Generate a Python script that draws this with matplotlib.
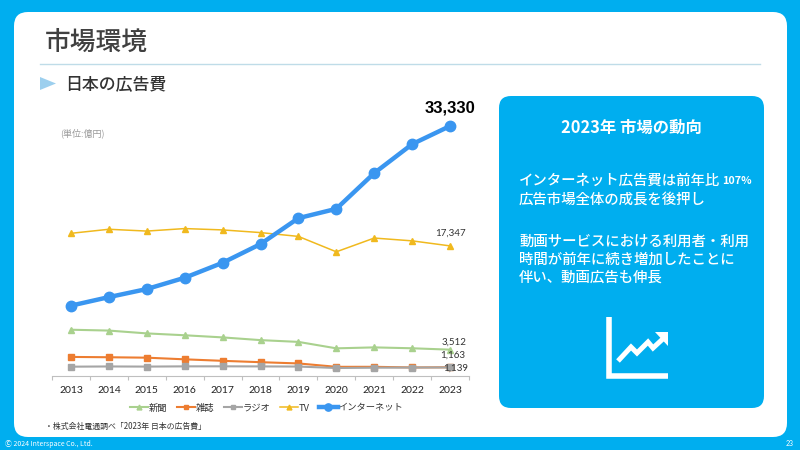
import matplotlib
matplotlib.use("Agg")
import matplotlib.pyplot as plt
from matplotlib.patches import FancyBboxPatch, Polygon

plt.rcParams['font.family'] = ['Noto Sans CJK JP', 'DejaVu Sans']

years = ['2013', '2014', '2015', '2016', '2017', '2018', '2019', '2020', '2021', '2022', '2023']
shinbun = [6170, 6057, 5679, 5431, 5147, 4784, 4547, 3688, 3815, 3697, 3512]
zasshi = [2543, 2500, 2443, 2223, 2023, 1841, 1675, 1223, 1224, 1140, 1163]
radio = [1243, 1272, 1254, 1285, 1290, 1278, 1260, 1066, 1106, 1129, 1139]
tv = [19023, 19564, 19323, 19657, 19478, 19123, 18612, 16559, 18393, 18019, 17347]
internet = [9381, 10519, 11594, 13100, 15094, 17589, 21048, 22290, 27052, 30912, 33330]

body_lines = ['インターネット広告費は前年比', '広告市場全体の成長を後押し',
              '動画サービスにおける利用者・利用', '時間が前年に続き増加したことに', '伴い、動画広告も伸長']
body_y = [181, 200, 242, 260, 278]

BLUE = '#00AEEF'
DARK = '#404040'
W, H = 800, 450

fig = plt.figure(figsize=(8, 4.5), dpi=100, facecolor=BLUE)

# スライド全体はピクセル座標で描く
bg = fig.add_axes([0, 0, 1, 1])
bg.set_xlim(0, W)
bg.set_ylim(H, 0)
bg.axis('off')

bg.add_patch(FancyBboxPatch((14 + 14, 12 + 14), 773 - 28, 425 - 28, boxstyle='round,pad=14,rounding_size=14',
                            fc='white', ec='none'))
bg.add_patch(FancyBboxPatch((499 + 12, 96 + 12), 265 - 24, 312 - 24, boxstyle='round,pad=12,rounding_size=12',
                            fc=BLUE, ec='none'))

bg.text(45, 42, '市場環境', fontsize=18.5, color=DARK, weight='medium', va='center')
bg.plot([40, 760], [64, 64], color='#BFDCE8', lw=1)
bg.add_patch(Polygon([(40, 77), (56, 83.5), (40, 90)], fc='#9CCFEE', ec='none'))
bg.text(65, 84, '日本の広告費', fontsize=12.2, color='#333333', weight='medium', va='center')
bg.text(60, 133, '(単位:億円)', fontsize=6.5, color='#999999', va='center')
bg.text(45, 426, '・株式会社電通調べ「2023年 日本の広告費」', fontsize=5.7, color='#333333', va='center')
bg.text(5, 444, 'Ⓒ 2024 Interspace Co., Ltd.', fontsize=5, color='white', va='center',
        family=['Noto Sans CJK JP', 'DejaVu Sans'])
bg.text(790, 444, '23', fontsize=5, color='white', va='center', ha='center', family='Lato')

bg.text(631, 128, '2023年 市場の動向', fontsize=11.8, color='white', weight='bold', ha='center', va='center')
for line, y in zip(body_lines, body_y):
    bg.text(519, y, line, fontsize=10.4, color='white', weight='medium', va='center')
bg.text(722, 181, '107%', fontsize=7.8, color='white', weight='bold', va='center')

# アイコン
bg.plot([609, 609, 668], [317, 376, 376], color='white', lw=4, solid_joinstyle='miter', solid_capstyle='butt')
bg.plot([618, 631, 637, 648, 653, 666], [361, 347, 353, 342, 348, 336], color='white', lw=3.6,
        solid_joinstyle='miter', solid_capstyle='butt')
bg.add_patch(Polygon([(655, 332), (668, 332), (668, 346)], fc='white', ec='none'))

# グラフ
ax = fig.add_axes([52 / W, 1 - 376 / H, (469 - 52) / W, (376 - 100) / H])
ax.patch.set_alpha(0)
x = list(range(len(years)))
ax.plot(x, shinbun, color='#A9D18E', lw=1.5, marker='^', ms=5, label='新聞')
ax.plot(x, zasshi, color='#ED7D31', lw=1.5, marker='s', ms=4.5, label='雑誌')
ax.plot(x, radio, color='#A5A5A5', lw=1.5, marker='s', ms=4.5, label='ラジオ')
ax.plot(x, tv, color='#F0B91E', lw=1.1, marker='^', ms=5, label='TV')
ax.plot(x, internet, color='#3A96F0', lw=3.2, marker='o', ms=7.5, label='インターネット')

ax.set_xlim(-0.5, 10.5)
ax.set_ylim(0, 36800)
ax.set_yticks([])
ax.set_xticks(x)
ax.set_xticklabels(years, fontsize=7.5, color='#222222', family='Lato')
ax.set_xticks([i - 0.5 for i in range(12)], minor=True)
ax.tick_params(axis='x', which='major', length=0, pad=7)
ax.tick_params(axis='x', which='minor', length=3, color='#BFBFBF', width=0.8)
for side in ['top', 'left', 'right']:
    ax.spines[side].set_visible(False)
ax.spines['bottom'].set_color('#BFBFBF')
ax.spines['bottom'].set_linewidth(0.8)

ax.annotate(f'{internet[-1]:,}', (10, internet[-1]), xytext=(0, 18), textcoords='offset pixels', ha='center',
            va='center', fontsize=12, weight='bold', color='black', family='Liberation Sans')
ax.annotate(f'{tv[-1]:,}', (10, tv[-1]), xytext=(0, 13), textcoords='offset pixels', ha='center',
            va='center', fontsize=7, color='#333333', family='Lato')
ax.annotate(f'{shinbun[-1]:,}', (10, shinbun[-1]), xytext=(4, 7), textcoords='offset pixels', ha='center',
            va='center', fontsize=7, color='#333333', family='Lato')
ax.annotate(f'{zasshi[-1]:,}', (10, zasshi[-1]), xytext=(3, 12), textcoords='offset pixels', ha='center',
            va='center', fontsize=7, color='#333333', family='Lato')
ax.annotate(f'{radio[-1]:,}', (10, radio[-1]), xytext=(6, -1), textcoords='offset pixels', ha='center',
            va='center', fontsize=7, color='#333333', family='Lato')

ax.legend(loc='center', bbox_to_anchor=(0.514, -0.116), ncol=5, frameon=False, fontsize=6.7, labelcolor='#333333',
          handlelength=2.0, handletextpad=0.05, columnspacing=1.0, borderpad=0, markerscale=0.7)

fig.savefig('out.png', dpi=100, facecolor=fig.get_facecolor())
